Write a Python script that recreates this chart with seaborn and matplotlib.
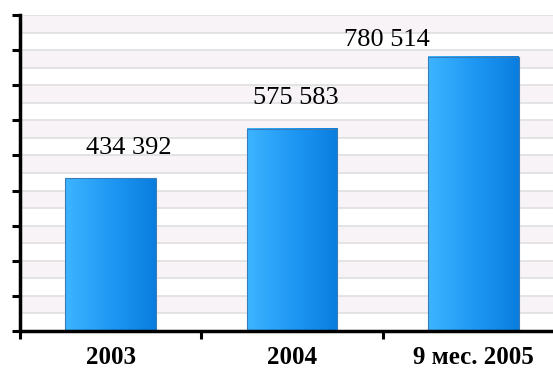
import seaborn as sns
import matplotlib.pyplot as plt
import matplotlib.colors as mcolors
import numpy as np
import pandas as pd

# data
periods = ["2003", "2004", "9 мес. 2005"]
values = [434392, 575583, 780514]
value_labels = ["434 392", "575 583", "780 514"]

df = pd.DataFrame({"period": periods, "value": values})

sns.set_theme(style="white")
plt.rcParams['font.family'] = ['Liberation Serif', 'DejaVu Serif']

fig = plt.figure(figsize=(5.53, 3.74), dpi=100)
ax = fig.add_axes([0.036, 0.115, 0.964, 0.845])

# striped background with thin grid lines
for i in range(18):
    if i % 2 == 1:
        ax.axhspan(i * 50000, (i + 1) * 50000, color="#f7f3f6", zorder=0, lw=0)
for i in range(1, 19):
    ax.axhline(i * 50000, color="#dcdcde", lw=1.1, zorder=0.5)

g = sns.barplot(data=df, x="period", y="value", color="#1e92ee", width=0.5,
                ax=ax, zorder=2, saturation=1)

# horizontal gradient on each bar
cmap = mcolors.LinearSegmentedColormap.from_list("bar", ["#3db4ff", "#1f98f4", "#0a7edf"])
grad = np.linspace(0, 1, 64).reshape(1, -1)
for p in g.containers[0]:
    x0, y0 = p.get_x(), p.get_y()
    w, h = p.get_width(), p.get_height()
    ax.imshow(grad, extent=[x0, x0 + w, y0, y0 + h], aspect="auto", cmap=cmap, zorder=3)
    ax.add_patch(plt.Rectangle((x0, y0), w, h, fill=False, ec="#3a7cb8", lw=0.8, zorder=4))

# value labels
offsets = [(13, 14), (3, 14), (-62, 4)]
for i, (v, lab) in enumerate(zip(values, value_labels)):
    ax.annotate(lab, (i, v), xytext=offsets[i], textcoords="offset points",
                ha="center", va="bottom", fontsize=19, color="black", zorder=5)

ax.set_xlim(-0.5, 2.44)
ax.set_ylim(0, 900000)
ax.set_yticks(np.arange(0, 900001, 100000))
ax.set_yticklabels([])
ax.set_xticks([-0.5, 0.5, 1.5])
ax.set_xticklabels([])
ax.set_xlabel("")
ax.set_ylabel("")

for i, name in enumerate(periods):
    ax.text(i, -0.085, name, transform=ax.get_xaxis_transform(), ha="center", va="center",
            fontsize=18, fontweight="bold", color="black")

ax.tick_params(axis="both", which="major", direction="out", length=6, width=2.2,
               color="black", left=True, bottom=True)
for s in ["top", "right"]:
    ax.spines[s].set_visible(False)
for s in ["left", "bottom"]:
    ax.spines[s].set_color("black")
    ax.spines[s].set_linewidth(2.5)
    ax.spines[s].set_zorder(6)

fig.savefig("out.png", dpi=100)
